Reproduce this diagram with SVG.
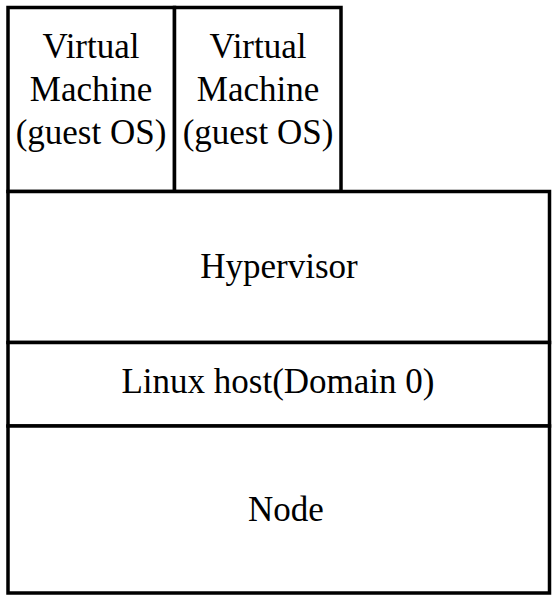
<svg xmlns="http://www.w3.org/2000/svg" width="560" height="604" viewBox="0 0 560 604">
<style>
.box{fill:#fff;stroke:#000;stroke-width:3.5}
.t{font-family:"Liberation Serif","Times New Roman",serif;font-size:35px;fill:#000;text-anchor:middle}
</style>
<rect width="560" height="604" fill="#fff"/>
<g id="vm1">
<rect class="box" x="8" y="7.5" width="166.5" height="184"/>
<text class="t" x="91" y="58">Virtual</text>
<text class="t" x="91" y="101">Machine</text>
<text class="t" x="91" y="144">(guest OS)</text>
</g>
<g id="vm2">
<rect class="box" x="174.5" y="7.5" width="166.5" height="184"/>
<text class="t" x="258" y="58">Virtual</text>
<text class="t" x="258" y="101">Machine</text>
<text class="t" x="258" y="144">(guest OS)</text>
</g>
<g id="hypervisor">
<rect class="box" x="8" y="191.5" width="541.5" height="151"/>
<text class="t" x="279" y="278">Hypervisor</text>
</g>
<g id="linux">
<rect class="box" x="8" y="342.5" width="541.5" height="83.5"/>
<text class="t" x="278" y="393">Linux host(Domain 0)</text>
</g>
<g id="node">
<rect class="box" x="8" y="426" width="541.5" height="167"/>
<text class="t" x="286" y="521">Node</text>
</g>
<g id="connectors"></g>
</svg>
